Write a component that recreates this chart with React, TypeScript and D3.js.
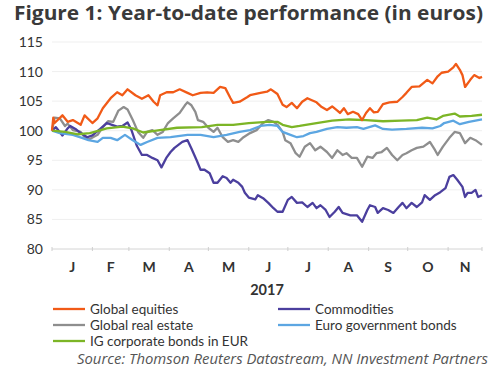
import React from "react";
import * as d3 from "d3";

const TITLE = "Figure 1: Year-to-date performance (in euros)";
const SOURCE = "Source: Thomson Reuters Datastream, NN Investment Partners";
const YEAR_LABEL = "2017";
const MONTH_LABELS = ["J", "F", "M", "A", "M", "J", "J", "A", "S", "O", "N"];
const Y_TICKS = [80, 85, 90, 95, 100, 105, 110, 115];
const START = new Date(2017, 0, 1);
const END = new Date(2017, 10, 27);

// [day since 1 Jan 2017, index value]
const globalEquities: [number, number][] = [
  [0, 100], [1, 102.2], [2, 101.3], [8, 102.6], [12, 101.5], [16, 101.8], [22, 101], [25, 102.6],
  [31, 101.3], [35, 102.1], [39, 103.8], [45, 105.5], [50, 106.5], [54, 106], [58, 107], [64, 106],
  [69, 105.4], [74, 106], [78, 104.9], [81, 104.3], [83, 106], [88, 106.5], [93, 106.5], [98, 107],
  [104, 106.4], [108, 106], [114, 106.4], [119, 106.5], [124, 106.4], [129, 107.4], [133, 107.2],
  [137, 105.5], [139, 104.7], [144, 104.9], [150, 105.7], [152, 106], [160, 106.4], [165, 106.6],
  [168, 107], [173, 106.2], [177, 104.4], [180, 104], [184, 104.7], [188, 103.8], [192, 104.9],
  [196, 105.5], [199, 105.2], [203, 104.8], [207, 104], [211, 103.5], [215, 104.1], [219, 103.4],
  [221, 103], [224, 103.8], [227, 102.8], [231, 103.2], [235, 102.8], [238, 101.8], [241, 103],
  [244, 103.8], [247, 103.1], [250, 103.2], [254, 104.5], [259, 104.8], [265, 104.9], [269, 105.7],
  [272, 106.4], [276, 107.4], [282, 107.5], [288, 108.6], [292, 108], [296, 109.2], [299, 109.8],
  [304, 110], [308, 110.7], [310, 111.3], [313, 110.3], [315, 109.4], [317, 107.4], [321, 108.6],
  [324, 109.4], [328, 108.9], [330, 109.1],
];

const commodities: [number, number][] = [
  [0, 100], [3, 100.6], [8, 99.2], [12, 100.4], [14, 100.8], [18, 100.3], [22, 99.6], [27, 98.9],
  [31, 99.2], [37, 100.3], [42, 101.3], [46, 101], [50, 100.7], [54, 100.8], [58, 101.4], [61, 100.1],
  [65, 97.5], [69, 95.9], [73, 95.9], [77, 95.4], [81, 95], [84, 93.8], [88, 95.5], [91, 96.4],
  [94, 97.1], [100, 98.1], [104, 98.4], [107, 97], [111, 95], [114, 93.4], [117, 93.4], [121, 92.8],
  [124, 91.2], [127, 91.2], [131, 92.3], [134, 92], [137, 91.2], [139, 91.7], [143, 91.2], [146, 90.5],
  [148, 89.5], [151, 88.7], [156, 88.4], [158, 89.1], [162, 88.6], [166, 87.8], [170, 86.9],
  [173, 86.3], [177, 86.3], [181, 88.3], [184, 88.8], [188, 87.8], [192, 87.9], [196, 87.1],
  [200, 87.8], [203, 86.9], [206, 87.4], [210, 86.6], [213, 85.4], [217, 86.3], [220, 87.1],
  [223, 86.1], [229, 85.7], [234, 85.7], [238, 84.6], [242, 86.6], [244, 87.4], [248, 87.1],
  [250, 86.1], [254, 86.9], [258, 86.6], [262, 86.1], [266, 87.1], [269, 87.8], [272, 86.9],
  [276, 87.8], [280, 87.1], [284, 87.9], [286, 89.1], [290, 88.3], [294, 89.1], [298, 89.6],
  [302, 90.3], [305, 92.2], [308, 92.5], [311, 91.7], [315, 90.5], [317, 88.8], [319, 89.5],
  [322, 89.5], [325, 90], [327, 88.8], [330, 89.1],
];

const globalRealEstate: [number, number][] = [
  [0, 100], [2, 102.2], [6, 102.1], [10, 100.8], [12, 101.2], [16, 100.1], [22, 99.8], [25, 98.9],
  [29, 98.6], [35, 99.3], [39, 100.6], [43, 101.6], [47, 101.5], [51, 103.4], [55, 104], [58, 103.6],
  [62, 101.8], [66, 99.8], [70, 98.8], [73, 99.8], [77, 100.1], [81, 99.3], [85, 99.8], [89, 101.3],
  [93, 102.1], [98, 103], [102, 104.3], [104, 104.8], [107, 104.3], [110, 103.2], [112, 101.8],
  [116, 101.5], [120, 100.5], [124, 99.8], [127, 100.5], [131, 98.9], [135, 98.1], [139, 98.4],
  [143, 98.1], [147, 98.9], [152, 99.6], [157, 100.1], [162, 101.3], [166, 101.8], [170, 101.5],
  [173, 101], [177, 99.8], [179, 98.4], [183, 97.9], [187, 96.2], [190, 95.6], [194, 97.3],
  [198, 97.9], [202, 96.7], [206, 97.3], [211, 96.4], [215, 95.4], [219, 96.7], [223, 95.9],
  [226, 96.2], [230, 95.4], [234, 95.4], [238, 93.9], [242, 95.6], [246, 95.4], [249, 96.2],
  [253, 96.4], [257, 97.1], [261, 95.9], [265, 95], [269, 95.9], [272, 96.2], [276, 96.7],
  [280, 97.1], [285, 97.3], [290, 98.1], [294, 96.7], [296, 95.9], [300, 97.3], [305, 98.8],
  [309, 99.8], [313, 99.6], [317, 97.9], [321, 98.8], [325, 98.4], [330, 97.6],
];

const euroGovBonds: [number, number][] = [
  [0, 100], [6, 99.6], [16, 99.3], [23, 98.8], [28, 98.4], [35, 98.1], [39, 98.8], [45, 98.8],
  [50, 98.4], [56, 99.3], [62, 98.4], [68, 97.6], [73, 98.1], [81, 98.8], [91, 98.9], [104, 99.3],
  [114, 99.3], [124, 98.9], [134, 99.3], [144, 99.8], [152, 100.1], [160, 100.8], [167, 101],
  [173, 100.8], [177, 99.8], [183, 99.3], [188, 98.9], [193, 99.1], [198, 99.6], [203, 99.8],
  [211, 100.3], [219, 100.6], [226, 100.5], [234, 100.6], [239, 100.3], [248, 100.9], [254, 100.3],
  [261, 100.2], [272, 100.3], [284, 100.5], [292, 100.4], [298, 100.8], [301, 101.3], [308, 101.7],
  [313, 101.1], [320, 101.5], [330, 101.9],
];

const igCorporate: [number, number][] = [
  [0, 100], [10, 99.8], [20, 99.4], [29, 99.6], [36, 100], [42, 100.4], [54, 100.7], [62, 100.4],
  [70, 99.7], [80, 100], [96, 100.5], [115, 100.6], [127, 101], [139, 101], [151, 101.3],
  [165, 101.5], [173, 101.5], [177, 101], [184, 100.6], [190, 100.8], [203, 101.3], [215, 101.7],
  [228, 101.9], [241, 101.8], [254, 101.6], [268, 101.7], [280, 101.8], [288, 102.2], [295, 101.9],
  [300, 102.5], [309, 102.9], [313, 102.4], [322, 102.5], [330, 102.7],
];

const SERIES_NAMES = [
  "Global equities", "Commodities", "Global real estate", "Euro government bonds", "IG corporate bonds in EUR",
];
const SERIES_COLORS = ["#f15a17", "#4b3f9e", "#8e8e8e", "#5ca6e2", "#7cb526"];
const SERIES_DATA = [globalEquities, commodities, globalRealEstate, euroGovBonds, igCorporate];
const DRAW_ORDER = [2, 1, 3, 4, 0];

export default function App() {
  const left = 52, right = 482, top = 42, bottom = 249;
  const x = d3.scaleTime().domain([START, END]).range([left, right]);
  const y = d3.scaleLinear().domain([80, 115]).range([bottom, top]);
  const line = d3
    .line<[number, number]>()
    .x((d) => x(d3.timeDay.offset(START, d[0])))
    .y((d) => y(d[1]))
    .curve(d3.curveLinear);

  const monthStarts = d3.timeMonth.range(START, END);
  const bounds = [...monthStarts.map((m) => x(m)), right];
  const font = "Lato, 'Open Sans', sans-serif";
  const legendPos = [
    [53, 309], [278, 309], [53, 325], [278, 325], [53, 341],
  ];

  return (
    <svg width={500} height={375} style={{ position: "absolute", left: 0, top: 0, background: "#fff" }}>
      <text x={14} y={20} fontFamily="'Open Sans', sans-serif" fontWeight={700} fontSize={19}
        fill="#3a3a3a" textLength={469} lengthAdjust="spacingAndGlyphs">{TITLE}</text>
      {Y_TICKS.map((t) => (
        <g key={t}>
          {t > 80 && <line x1={left} x2={right} y1={y(t)} y2={y(t)} stroke="#efefef" strokeWidth={1} />}
          <text x={43} y={y(t) + 5} textAnchor="end" fontFamily={font} fontSize={14} fill="#333">{t}</text>
        </g>
      ))}
      <line x1={left} x2={right} y1={bottom} y2={bottom} stroke="#d4d4d4" strokeWidth={1} />
      {bounds.map((bx, i) => (
        <line key={i} x1={bx} x2={bx} y1={bottom - 2} y2={bottom + 2} stroke="#cfcfcf" strokeWidth={1} />
      ))}
      {MONTH_LABELS.map((m, i) => (
        <text key={i} x={(bounds[i] + bounds[i + 1]) / 2} y={272} textAnchor="middle" fontFamily={font}
          fontWeight={700} fontSize={14} fill="#333">{m}</text>
      ))}
      <text x={267} y={295} textAnchor="middle" fontFamily={font} fontWeight={700} fontSize={14.5} fill="#333">{YEAR_LABEL}</text>
      {DRAW_ORDER.map((i) => (
        <path key={i} d={line(SERIES_DATA[i]) || ""} fill="none" stroke={SERIES_COLORS[i]}
          strokeWidth={2.3} strokeLinejoin="round" />
      ))}
      {SERIES_NAMES.map((n, i) => (
        <g key={n}>
          <line x1={legendPos[i][0]} x2={legendPos[i][0] + 32} y1={legendPos[i][1]} y2={legendPos[i][1]}
            stroke={SERIES_COLORS[i]} strokeWidth={2.3} />
          <text x={legendPos[i][0] + 37} y={legendPos[i][1] + 5} fontFamily={font} fontSize={13.5} fill="#333">{n}</text>
        </g>
      ))}
      <text x={77} y={364} fontFamily="'Open Sans', sans-serif" fontStyle="italic" fontSize={14} fill="#555"
        textLength={411} lengthAdjust="spacingAndGlyphs">{SOURCE}</text>
    </svg>
  );
}
